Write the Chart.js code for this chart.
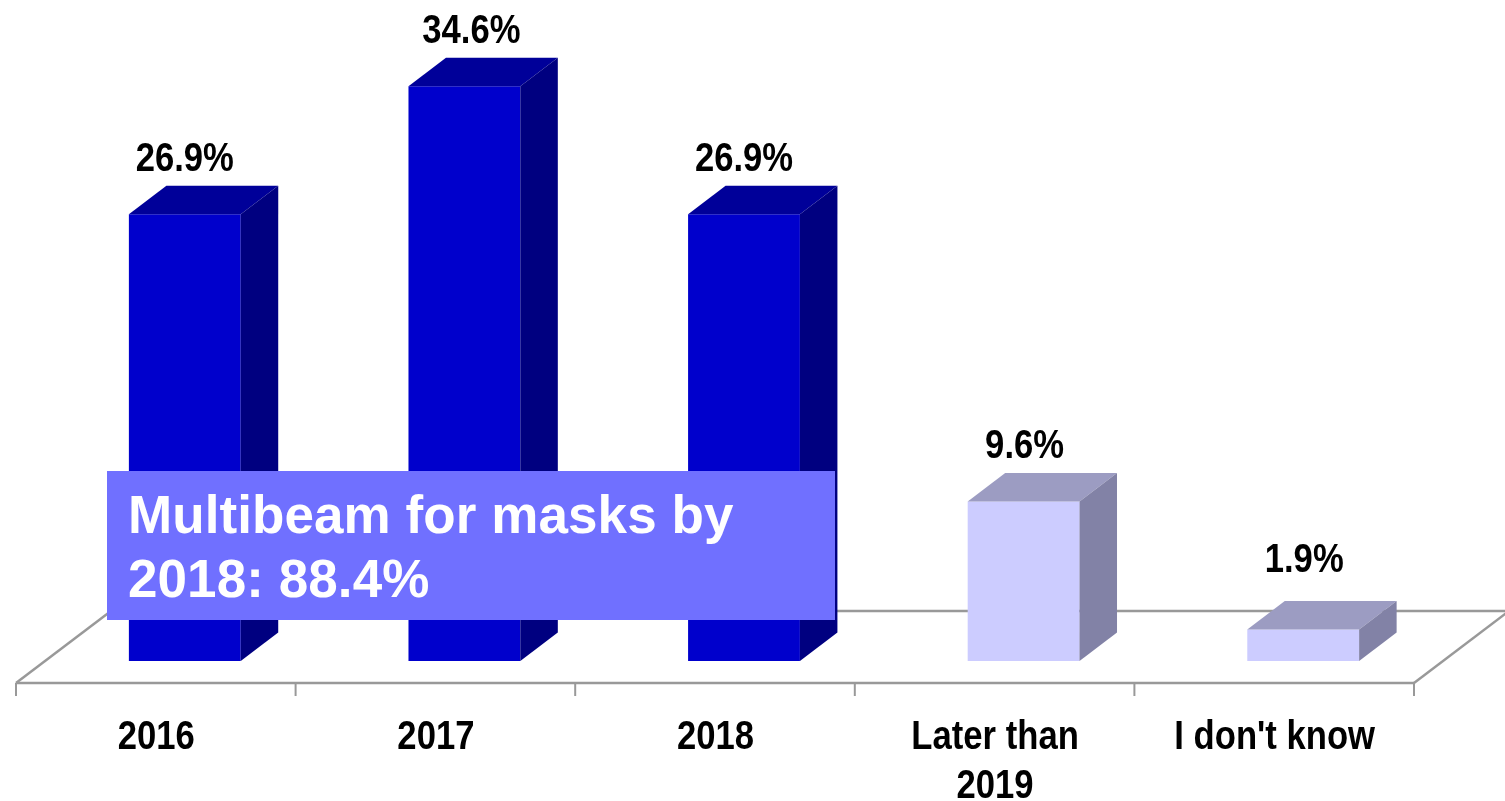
<!DOCTYPE html>
<html>
<head>
<meta charset="utf-8">
<title>Multibeam for masks</title>
<style>
  body { margin: 0; background: #ffffff; }
  #myChart { display: block; }
</style>
</head>
<body>
<canvas id="myChart" width="1505" height="801"></canvas>
<script src="https://cdn.jsdelivr.net/npm/chart.js@4/dist/chart.umd.min.js"></script>
<script>
'use strict';

// DATA
let categories = ['2016', '2017', '2018', ['Later than', '2019'], 'I don\'t know'];
let percents = [26.9, 34.6, 26.9, 9.6, 1.9];
let calloutLines = ['Multibeam for masks by', '2018: 88.4%'];

// COLOURS
let frontColors = ['#0000cc', '#0000cc', '#0000cc', '#ccccff', '#ccccff'];
let sideColors = ['#000080', '#000080', '#000080', '#8282a6', '#8282a6'];
let topColors = ['#000099', '#000099', '#000099', '#9c9cc2', '#9c9cc2'];

// 3D LOOK
const BAR_SHIFT = 29;
const DEPTH_X = 37.5;
const DEPTH_Y = 28.5;
const FLOOR_DROP = 22;
const FLOOR_X = 95;
const FLOOR_Y = 72;
const LINE_GREY = '#999999';

// labels are a tall condensed bold, there is no such face so it gets squeezed
const LABEL_FONT = 'bold 41px "Liberation Sans", Arial, sans-serif';
const LABEL_SQUEEZE = 0.845;

function fillShape(ctx, color, points) {
  ctx.fillStyle = color;
  ctx.beginPath();
  ctx.moveTo(points[0][0], points[0][1]);
  for (let i = 1; i < points.length; i++) {
    ctx.lineTo(points[i][0], points[i][1]);
  }
  ctx.closePath();
  ctx.fill();
}

function strokeLine(ctx, x1, y1, x2, y2) {
  ctx.beginPath();
  ctx.moveTo(x1, y1);
  ctx.lineTo(x2, y2);
  ctx.stroke();
}

function drawLabel(ctx, text, x, y) {
  ctx.save();
  ctx.translate(x, y);
  ctx.scale(LABEL_SQUEEZE, 1);
  ctx.font = LABEL_FONT;
  ctx.fillStyle = '#000000';
  ctx.textAlign = 'center';
  ctx.textBaseline = 'middle';
  ctx.fillText(text, 0, 0);
  ctx.restore();
}

// floor lines and the ticks under the categories
let floorPlugin = {
  id: 'floor',
  beforeDatasetsDraw(chart) {
    let ctx = chart.ctx;
    let xScale = chart.scales.x;
    let axisY = chart.scales.y.getPixelForValue(0) + FLOOR_DROP;
    let step = xScale.width / categories.length;

    ctx.save();
    ctx.strokeStyle = LINE_GREY;
    ctx.lineWidth = 2.5;
    strokeLine(ctx, xScale.left, axisY, xScale.right, axisY);
    strokeLine(ctx, xScale.left, axisY, xScale.left + FLOOR_X, axisY - FLOOR_Y);
    strokeLine(ctx, xScale.right, axisY, xScale.right + FLOOR_X, axisY - FLOOR_Y);
    strokeLine(ctx, xScale.left + FLOOR_X, axisY - FLOOR_Y, xScale.right + FLOOR_X, axisY - FLOOR_Y);
    ctx.lineWidth = 2;
    for (let i = 0; i <= categories.length; i++) {
      let tickX = xScale.left + i * step;
      strokeLine(ctx, tickX, axisY, tickX, axisY + 13);
    }
    ctx.restore();

    // bars sit to the right of their tick slots, they stand further back on the floor
    ctx.save();
    ctx.translate(BAR_SHIFT, 0);
  },
  afterDatasetsDraw(chart) {
    let ctx = chart.ctx;
    let bars = chart.getDatasetMeta(0).data;

    // top and side faces come from the same bar elements
    for (let i = 0; i < bars.length; i++) {
      let bar = bars[i];
      let left = bar.x - bar.width / 2;
      let right = bar.x + bar.width / 2;
      fillShape(ctx, topColors[i], [
        [left, bar.y],
        [right, bar.y],
        [right + DEPTH_X, bar.y - DEPTH_Y],
        [left + DEPTH_X, bar.y - DEPTH_Y]
      ]);
      fillShape(ctx, sideColors[i], [
        [right, bar.y],
        [right + DEPTH_X, bar.y - DEPTH_Y],
        [right + DEPTH_X, bar.base - DEPTH_Y],
        [right, bar.base]
      ]);
    }
    ctx.restore();
  }
};

// percent labels over the bars, category labels under the floor
let labelPlugin = {
  id: 'labels',
  afterDatasetsDraw(chart) {
    let ctx = chart.ctx;
    let xScale = chart.scales.x;
    let bars = chart.getDatasetMeta(0).data;
    // 2017 sits a little right, the short last bar keeps its label higher
    let nudgeX = [0, 7, 0, 1, 1];
    let nudgeY = [0, 0, 0, 0, -14];

    for (let i = 0; i < bars.length; i++) {
      let label = percents[i].toFixed(1) + '%';
      drawLabel(ctx, label, bars[i].x + BAR_SHIFT + nudgeX[i], bars[i].y - 55 + nudgeY[i]);
    }

    for (let i = 0; i < categories.length; i++) {
      let lines = [].concat(categories[i]);
      let tickX = xScale.getPixelForTick(i);
      for (let j = 0; j < lines.length; j++) {
        drawLabel(ctx, lines[j], tickX + 0.5, xScale.top + 77 + j * 49);
      }
    }
  }
};

// blue callout box on top of the bars
let calloutPlugin = {
  id: 'callout',
  afterDraw(chart) {
    let ctx = chart.ctx;
    ctx.save();
    ctx.fillStyle = '#7070ff';
    ctx.fillRect(107, 471, 728, 149);
    ctx.fillStyle = '#ffffff';
    ctx.font = 'bold 53px "Liberation Sans", Arial, sans-serif';
    ctx.letterSpacing = '0.08px';
    ctx.textAlign = 'left';
    ctx.textBaseline = 'alphabetic';
    ctx.fillText(calloutLines[0], 128, 533);
    ctx.fillText(calloutLines[1], 128, 597);
    ctx.restore();
  }
};

let canvasChart = document.getElementById('myChart');

const data = {
  labels: categories,
  datasets: [{
    data: percents,
    backgroundColor: frontColors,
    borderWidth: 0,
    barPercentage: 0.4,
    categoryPercentage: 1
  }]
};

const config = {
  type: 'bar',
  data: data,
  plugins: [floorPlugin, labelPlugin, calloutPlugin],
  options: {
    responsive: false,
    animation: false,
    layout: {
      padding: { left: 16, right: 91, top: 0, bottom: 0 }
    },
    plugins: {
      legend: { display: false },
      title: { display: false },
      tooltip: { enabled: false }
    },
    scales: {
      x: {
        grid: { display: false },
        border: { display: false },
        ticks: { display: false, autoSkip: false },
        afterFit(scale) {
          scale.height = 140;
        }
      },
      y: {
        display: false,
        min: 0,
        max: 39.8
      }
    }
  }
};

const myChart = new Chart(canvasChart, config);
</script>
</body>
</html>
